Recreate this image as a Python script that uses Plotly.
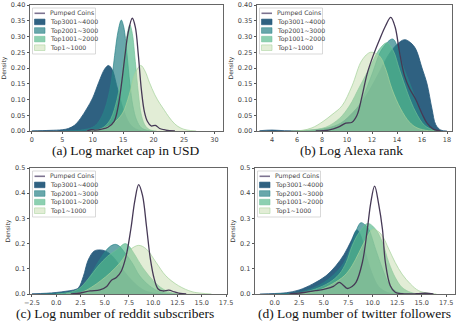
import plotly.graph_objects as go

W, H = 458, 326

# ---- data ----
SERIES = ["Pumped Coins", "Top3001~4000", "Top2001~3000", "Top1001~2000", "Top1~1000"]
CAPTIONS = ["(a) Log market cap in USD", "(b) Log Alexa rank",
            "(c) Log number of reddit subscribers", "(d) Log number of twitter followers"]

# (a) log market cap
a_pumped = [(9, 0), (9.8, 0.004), (10.4, 0.003), (11.5, 0.006), (12.5, 0.012), (13.5, 0.03), (14.2, 0.08),
            (14.8, 0.16), (15.3, 0.24), (15.8, 0.31), (16.5, 0.358), (17.0, 0.33), (17.5, 0.24), (18.0, 0.13),
            (18.5, 0.06), (19.0, 0.03), (19.6, 0.016), (20.3, 0.018), (21.0, 0.008), (22.0, 0.003), (23.5, 0)]
a_top3001 = [(0, 0.0005), (3, 0.002), (5, 0.004), (6, 0.008), (7, 0.018), (8, 0.04), (9, 0.07), (10, 0.105),
             (11, 0.155), (12, 0.198), (12.6, 0.208), (13.2, 0.195), (14, 0.14), (15, 0.07), (16, 0.025),
             (17, 0.007), (18, 0.001), (19, 0)]
a_top2001 = [(5, 0), (8, 0.003), (10, 0.012), (11, 0.03), (12, 0.07), (13, 0.15), (13.6, 0.24), (14.2, 0.32),
             (14.7, 0.352), (15.1, 0.33), (15.6, 0.25), (16.1, 0.15), (16.6, 0.08), (17.2, 0.035), (18, 0.01),
             (19, 0.002), (20, 0)]
a_top1001 = [(9, 0), (11, 0.005), (12, 0.015), (13, 0.04), (14, 0.1), (14.7, 0.17), (15.3, 0.26), (15.8, 0.32),
             (16.1, 0.337), (16.5, 0.31), (17, 0.22), (17.5, 0.12), (18, 0.05), (18.7, 0.015), (19.5, 0.003),
             (20.5, 0)]
a_top1 = [(9, 0), (11, 0.004), (12, 0.01), (13, 0.02), (14, 0.035), (15, 0.06), (16, 0.115), (17, 0.185),
          (17.9, 0.208), (18.6, 0.19), (19.3, 0.155), (20.2, 0.115), (21, 0.088), (21.8, 0.065), (22.5, 0.045),
          (23.5, 0.022), (24.5, 0.009), (25.5, 0.003), (27, 0)]

# (b) log alexa rank
b_pumped = [(7.5, 0), (8.5, 0.003), (9.3, 0.012), (9.9, 0.025), (10.4, 0.028), (10.8, 0.05), (11.2, 0.11),
            (11.6, 0.18), (12.1, 0.24), (12.6, 0.29), (13.1, 0.335), (13.5, 0.361), (13.85, 0.33), (14.2, 0.25),
            (14.6, 0.175), (15.0, 0.135), (15.5, 0.1), (16.0, 0.055), (16.4, 0.025), (16.9, 0.006), (17.5, 0)]
b_top3001 = [(3, 0.001), (4, 0.003), (5, 0.001), (6.5, 0.001), (7.5, 0.004), (8.5, 0.01), (9.5, 0.025),
             (10.5, 0.06), (11.5, 0.11), (12.5, 0.18), (13.3, 0.24), (14.0, 0.275), (14.6, 0.29), (15.1, 0.28),
             (15.5, 0.26), (16.0, 0.2), (16.4, 0.15), (16.8, 0.07), (17.1, 0.02), (17.5, 0.003), (18, 0)]
b_top2001 = [(6, 0), (7, 0.001), (8, 0.004), (9.1, 0.013), (9.9, 0.033), (10.5, 0.05), (11.2, 0.1), (12.0, 0.18),
             (12.8, 0.26), (13.65, 0.292), (14.1, 0.26), (14.45, 0.21), (15.1, 0.143), (15.8, 0.07), (16.3, 0.028),
             (16.9, 0.007), (17.5, 0)]
b_top1001 = [(6, 0), (7, 0.003), (8.3, 0.012), (9.4, 0.04), (10.2, 0.08), (11, 0.14), (11.8, 0.2), (12.6, 0.26),
             (13.2, 0.28), (13.7, 0.255), (14.2, 0.195), (14.85, 0.12), (15.5, 0.06), (16.2, 0.018), (17, 0.002),
             (17.5, 0)]
b_top1 = [(5.5, 0), (6.4, 0.002), (7.2, 0.01), (8.0, 0.028), (8.8, 0.052), (9.6, 0.08), (10.4, 0.143),
          (11.2, 0.225), (11.9, 0.25), (12.6, 0.238), (13.1, 0.196), (13.6, 0.133), (14.3, 0.07), (15.0, 0.028),
          (15.6, 0.01), (16.5, 0.001), (17, 0)]

# (c) log reddit subscribers
c_pumped = [(1.5, 0), (2.5, 0.004), (3.5, 0.012), (4.5, 0.016), (5.2, 0.03), (5.7, 0.055), (6.2, 0.065),
            (6.7, 0.09), (7.2, 0.15), (7.7, 0.26), (8.1, 0.37), (8.5, 0.434), (8.9, 0.39), (9.3, 0.27),
            (9.7, 0.14), (10.1, 0.06), (10.5, 0.02), (11.0, 0.012), (11.6, 0.015), (12.2, 0.008), (12.8, 0.002),
            (13.4, 0)]
c_top3001 = [(-2.5, 0.001), (-1, 0.003), (0, 0.006), (1, 0.011), (1.8, 0.016), (2.3, 0.025), (2.8, 0.07),
             (3.3, 0.135), (3.9, 0.17), (4.5, 0.175), (5.1, 0.17), (5.8, 0.15), (6.6, 0.11), (7.4, 0.07),
             (8.3, 0.035), (9.2, 0.012), (10.2, 0.003), (11, 0)]
c_top2001 = [(-1.5, 0), (0, 0.003), (1.6, 0.009), (2.6, 0.026), (3.4, 0.066), (4.3, 0.125), (5.1, 0.171),
             (5.6, 0.19), (6.1, 0.197), (6.5, 0.19), (6.95, 0.17), (7.8, 0.125), (8.6, 0.072), (9.6, 0.033),
             (10.6, 0.01), (11.6, 0.002), (12.5, 0)]
c_top1001 = [(0, 0), (1.3, 0.006), (2.3, 0.02), (3.3, 0.06), (4.3, 0.11), (5.3, 0.15), (6.3, 0.178), (7.1, 0.2),
             (7.5, 0.19), (7.95, 0.165), (9.0, 0.1), (10, 0.053), (11, 0.02), (12, 0.004), (13, 0)]
c_top1 = [(1, 0), (2.6, 0.007), (3.6, 0.026), (4.6, 0.053), (5.6, 0.085), (6.6, 0.125), (7.6, 0.175),
          (8.5, 0.193), (9.3, 0.178), (10.3, 0.125), (11.3, 0.072), (12.6, 0.033), (14, 0.009), (15, 0.003),
          (16, 0)]

# (d) log twitter followers
d_pumped = [(1.5, 0), (3, 0.006), (4.2, 0.013), (5.2, 0.02), (6.0, 0.03), (6.6, 0.046), (7.0, 0.035),
            (7.4, 0.022), (7.9, 0.03), (8.3, 0.046), (8.95, 0.125), (9.46, 0.257), (9.8, 0.36), (10.2, 0.428),
            (10.6, 0.36), (11.0, 0.257), (11.3, 0.125), (11.8, 0.033), (12.3, 0.007), (13, 0.001), (14.5, 0.001),
            (15.4, 0.003), (16.2, 0)]
d_top3001 = [(-1.5, 0), (0, 0.002), (1.2, 0.005), (2.5, 0.016), (3.9, 0.04), (5.24, 0.072), (6.25, 0.112),
             (7.1, 0.158), (7.8, 0.21), (8.4, 0.254), (8.8, 0.23), (9.3, 0.16), (9.9, 0.085), (10.6, 0.03),
             (11.5, 0.006), (12.5, 0)]
d_top2001 = [(0, 0), (2, 0.004), (3, 0.012), (4, 0.025), (5, 0.045), (6, 0.075), (7, 0.12), (7.8, 0.19),
             (8.3, 0.25), (8.8, 0.283), (9.2, 0.275), (9.6, 0.257), (10.3, 0.178), (11, 0.1), (11.65, 0.04),
             (12.3, 0.013), (13, 0.003), (13.8, 0)]
d_top1001 = [(1.5, 0), (2.9, 0.007), (4.2, 0.02), (5.6, 0.046), (6.6, 0.079), (7.3, 0.125), (7.9, 0.19),
             (8.6, 0.243), (9.5, 0.28), (10.3, 0.257), (11, 0.204), (11.65, 0.125), (12.3, 0.066), (13, 0.026),
             (13.85, 0.007), (14.6, 0)]
d_top1 = [(2, 0), (3.2, 0.004), (4.6, 0.016), (5.9, 0.04), (7.1, 0.072), (7.9, 0.112), (8.6, 0.164),
          (9.3, 0.217), (10, 0.257), (10.5, 0.25), (11, 0.23), (11.65, 0.178), (12.3, 0.125), (13, 0.079),
          (13.85, 0.04), (14.7, 0.013), (15.7, 0.003), (16.5, 0)]

X_TICKS_A = [0, 5, 10, 15, 20, 25, 30]
X_TICKS_B = [4, 6, 8, 10, 12, 14, 16, 18]
X_TICKS_CD = [-2.5, 0.0, 2.5, 5.0, 7.5, 10.0, 12.5, 15.0, 17.5]
Y_TICKS_AB = [0.0, 0.05, 0.10, 0.15, 0.20, 0.25, 0.30, 0.35, 0.40]
Y_TICKS_CD = [0.0, 0.1, 0.2, 0.3, 0.4, 0.5]

# ---- styling ----
PUMP_COLOR = '#463956'
FILLS = ['rgba(36,88,122,0.95)', 'rgba(40,130,135,0.7)', 'rgba(85,185,140,0.68)', 'rgba(190,215,165,0.45)']
EDGES = ['rgba(36,88,122,1)', 'rgba(40,130,135,0.85)', 'rgba(110,190,150,0.85)', 'rgba(165,210,155,0.9)']
TICK_FONT = dict(family='DejaVu Sans', size=6.5, color='#444')

# pixel boxes of each panel: left, right, top, bottom
panels = [
    dict(box=(30, 223, 5, 131), xr=[-0.3, 31.4], yr=[0, 0.40], xt=X_TICKS_A, yt=Y_TICKS_AB, xf='d', yf='.2f',
         data=[a_pumped, a_top3001, a_top2001, a_top1001, a_top1], cap=(126, 150)),
    dict(box=(257, 452, 5, 131), xr=[2.8, 18.4], yr=[0, 0.40], xt=X_TICKS_B, yt=Y_TICKS_AB, xf='d', yf='.2f',
         data=[b_pumped, b_top3001, b_top2001, b_top1001, b_top1], cap=(351, 150)),
    dict(box=(30, 227, 168, 294), xr=[-2.7, 17.6], yr=[0, 0.5], xt=X_TICKS_CD, yt=Y_TICKS_CD, xf='.1f', yf='.1f',
         data=[c_pumped, c_top3001, c_top2001, c_top1001, c_top1], cap=(115, 313)),
    dict(box=(255, 455, 168, 294), xr=[-2.0, 18.4], yr=[0, 0.5], xt=X_TICKS_CD, yt=Y_TICKS_CD, xf='.1f', yf='.1f',
         data=[d_pumped, d_top3001, d_top2001, d_top1001, d_top1], cap=(354, 313)),
]


def fx(x):
    return x / W


def fy(y):
    return 1 - y / H


fig = go.Figure()
shapes = []
annotations = []

for i, p in enumerate(panels, start=1):
    sfx = '' if i == 1 else str(i)
    xa, ya = 'x' + sfx, 'y' + sfx
    l, r, t, b = p['box']

    # fills: Top3001 at the bottom, Top1 on top
    for k in range(1, 5):
        pts = p['data'][k]
        fig.add_trace(go.Scatter(
            x=[q[0] for q in pts], y=[q[1] for q in pts],
            mode='lines', fill='tozeroy', fillcolor=FILLS[k - 1],
            line=dict(color=EDGES[k - 1], width=0.8, shape='spline', smoothing=1.0),
            name=SERIES[k], showlegend=False, xaxis=xa, yaxis=ya, hoverinfo='skip'
        ))
    pts = p['data'][0]
    fig.add_trace(go.Scatter(
        x=[q[0] for q in pts], y=[q[1] for q in pts], mode='lines',
        line=dict(color=PUMP_COLOR, width=1.3, shape='spline', smoothing=1.0),
        name=SERIES[0], showlegend=False, xaxis=xa, yaxis=ya
    ))

    axis_common = dict(showline=True, mirror=True, linecolor='#666', linewidth=0.8, showgrid=False,
                       zeroline=False, ticks='outside', ticklen=2.5, tickwidth=0.6, tickcolor='#555',
                       tickfont=TICK_FONT, automargin=False)
    fig.update_layout(**{
        'xaxis' + sfx: dict(domain=[fx(l), fx(r)], range=p['xr'], anchor=ya, tickvals=p['xt'],
                            tickformat=p['xf'], **axis_common),
        'yaxis' + sfx: dict(domain=[fy(b), fy(t)], range=p['yr'], anchor=xa, tickvals=p['yt'],
                            tickformat=p['yf'],
                            title=dict(text='Density', font=dict(family='DejaVu Sans', size=6, color='#333'),
                                       standoff=3),
                            **axis_common),
    })

    # hand-made legend (plotly's own legend rows are too tall at this size)
    lx0, ly0 = l + 2.5, t + 3
    shapes.append(dict(type='rect', xref='paper', yref='paper', x0=fx(lx0), x1=fx(lx0 + 63),
                       y0=fy(ly0), y1=fy(ly0 + 46), fillcolor='rgba(255,255,255,0.85)',
                       line=dict(color='#cfcfcf', width=0.8), layer='above'))
    for k, name in enumerate(SERIES):
        cy = ly0 + 5.3 + k * 8.6
        if k == 0:
            shapes.append(dict(type='line', xref='paper', yref='paper', x0=fx(lx0 + 2), x1=fx(lx0 + 12.5),
                               y0=fy(cy), y1=fy(cy), line=dict(color='#7d7390', width=1.6), layer='above'))
        else:
            shapes.append(dict(type='rect', xref='paper', yref='paper', x0=fx(lx0 + 2), x1=fx(lx0 + 12.5),
                               y0=fy(cy - 2.8), y1=fy(cy + 2.8), fillcolor=FILLS[k - 1],
                               line=dict(color=EDGES[k - 1], width=0.6), layer='above'))
        annotations.append(dict(text=name, xref='paper', yref='paper', x=fx(lx0 + 15.5), y=fy(cy),
                                xanchor='left', yanchor='middle', showarrow=False,
                                font=dict(family='DejaVu Sans', size=6.2, color='#444')))

    cx, cy = p['cap']
    annotations.append(dict(text=CAPTIONS[i - 1], xref='paper', yref='paper', x=fx(cx), y=fy(cy),
                            xanchor='center', yanchor='middle', showarrow=False,
                            font=dict(family='Liberation Serif', size=13.5, color='#111')))

fig.update_layout(
    template='none',
    width=W, height=H,
    margin=dict(l=0, r=0, t=0, b=0, pad=0),
    paper_bgcolor='white', plot_bgcolor='white',
    showlegend=False,
    shapes=shapes, annotations=annotations,
)

# the page body has an 8px default margin; drop it so the figure sits at the window corner
fig.write_html("out.html", config={'displayModeBar': False},
               post_script="document.body.style.margin='0';")
